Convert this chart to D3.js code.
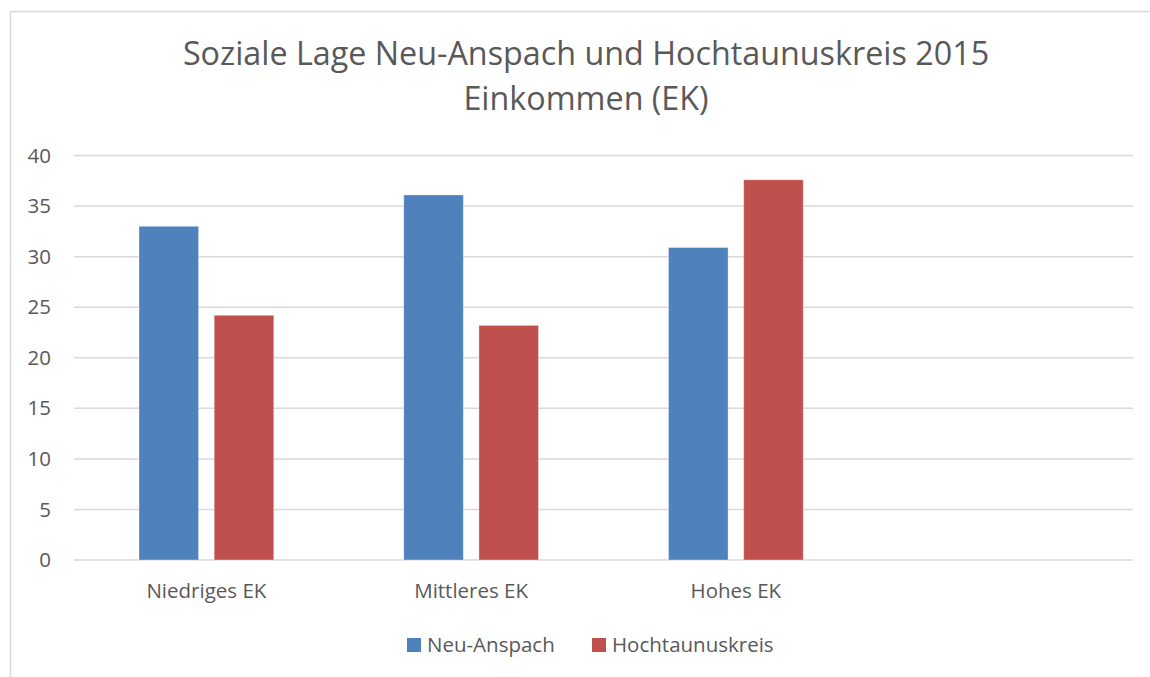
<!DOCTYPE html>
<html>
<head>
<meta charset="utf-8">
<script src="https://cdn.jsdelivr.net/npm/d3@7"></script>
<style>
  body { margin: 0; background: #fff; }
  svg { font-family: "Open Sans", sans-serif; }
  .tick-label { fill: #595959; font-size: 20.5px; }
  .cat-label { fill: #595959; font-size: 20.5px; }
  .legend-text { fill: #595959; font-size: 20.5px; }
  .title { fill: #595959; font-size: 32.3px; }
</style>
</head>
<body>
<svg id="chart" width="1150" height="677"></svg>
<script>
// chart data
const categories = ["Niedriges EK", "Mittleres EK", "Hohes EK", ""];
const seriesNames = ["Neu-Anspach", "Hochtaunuskreis"];
const neuAnspach = [33.0, 36.1, 30.9, null];
const hochtaunus = [24.2, 23.2, 37.6, null];
const yTicks = [0, 5, 10, 15, 20, 25, 30, 35, 40];
const titleLines = ["Soziale Lage Neu-Anspach und Hochtaunuskreis 2015", "Einkommen (EK)"];

const colors = ["#4f81bd", "#c0504d"];
const margin = { top: 155.5, left: 74, right: 17, bottom: 117 };

document.addEventListener('DOMContentLoaded', function () {
    const svg = d3.select('#chart');
    const width = 1150, height = 677;
    const innerWidth = width - margin.left - margin.right;
    const innerHeight = height - margin.top - margin.bottom;

    // outer chart border
    svg.append('rect')
        .attr('x', 10.5).attr('y', 11.5)
        .attr('width', 1200).attr('height', 700)
        .attr('fill', 'none')
        .attr('stroke', '#d9d9d9')
        .attr('stroke-width', 1.5);

    // title
    svg.selectAll('.title')
        .data(titleLines)
        .join('text')
        .attr('class', 'title')
        .attr('text-anchor', 'middle')
        .attr('x', 586)
        .attr('y', (d, i) => 65 + i * 45)
        .text(d => d);

    const g = svg.append('g')
        .attr('transform', 'translate(' + margin.left + ',' + margin.top + ')');

    const x = d3.scaleBand()
        .domain(categories.map((d, i) => i))
        .range([0, innerWidth]);

    const y = d3.scaleLinear()
        .domain([0, 40])
        .range([innerHeight, 0]);

    // gridlines
    g.selectAll('.grid')
        .data(yTicks)
        .join('line')
        .attr('x1', 0).attr('x2', innerWidth)
        .attr('y1', d => y(d)).attr('y2', d => y(d))
        .attr('stroke', '#d9d9d9')
        .attr('stroke-width', 1.5);

    // y tick labels
    g.selectAll('.tick-label')
        .data(yTicks)
        .join('text')
        .attr('class', 'tick-label')
        .attr('text-anchor', 'end')
        .attr('x', -23)
        .attr('y', d => y(d))
        .attr('dy', '0.35em')
        .text(d => d);

    // bars
    const band = x.bandwidth();
    const barW = band * 0.225;
    const barGap = band * 0.059;
    const groupW = barW * 2 + barGap;
    const series = [neuAnspach, hochtaunus];

    series.forEach(function (vals, s) {
        g.selectAll('.bar-' + s)
            .data(vals.map((v, i) => ({ v: v, i: i })).filter(d => d.v !== null))
            .join('rect')
            .attr('class', 'bar-' + s)
            .attr('x', d => x(d.i) + (band - groupW) / 2 + s * (barW + barGap))
            .attr('y', d => y(d.v))
            .attr('width', barW)
            .attr('height', d => innerHeight - y(d.v))
            .attr('fill', colors[s])
            .attr('stroke', 'rgba(255,255,255,0.35)')
            .attr('stroke-width', 1);
    });

    // category labels
    g.selectAll('.cat-label')
        .data(categories)
        .join('text')
        .attr('class', 'cat-label')
        .attr('text-anchor', 'middle')
        .attr('x', (d, i) => x(i) + band / 2)
        .attr('y', innerHeight + 38)
        .text(d => d);

    // legend
    const legendX = [407, 592];
    seriesNames.forEach(function (name, s) {
        svg.append('rect')
            .attr('x', legendX[s]).attr('y', 638)
            .attr('width', 14).attr('height', 14)
            .attr('fill', colors[s]);
        svg.append('text')
            .attr('class', 'legend-text')
            .attr('x', legendX[s] + 20)
            .attr('y', 652)
            .text(name);
    });
});
</script>
</body>
</html>
